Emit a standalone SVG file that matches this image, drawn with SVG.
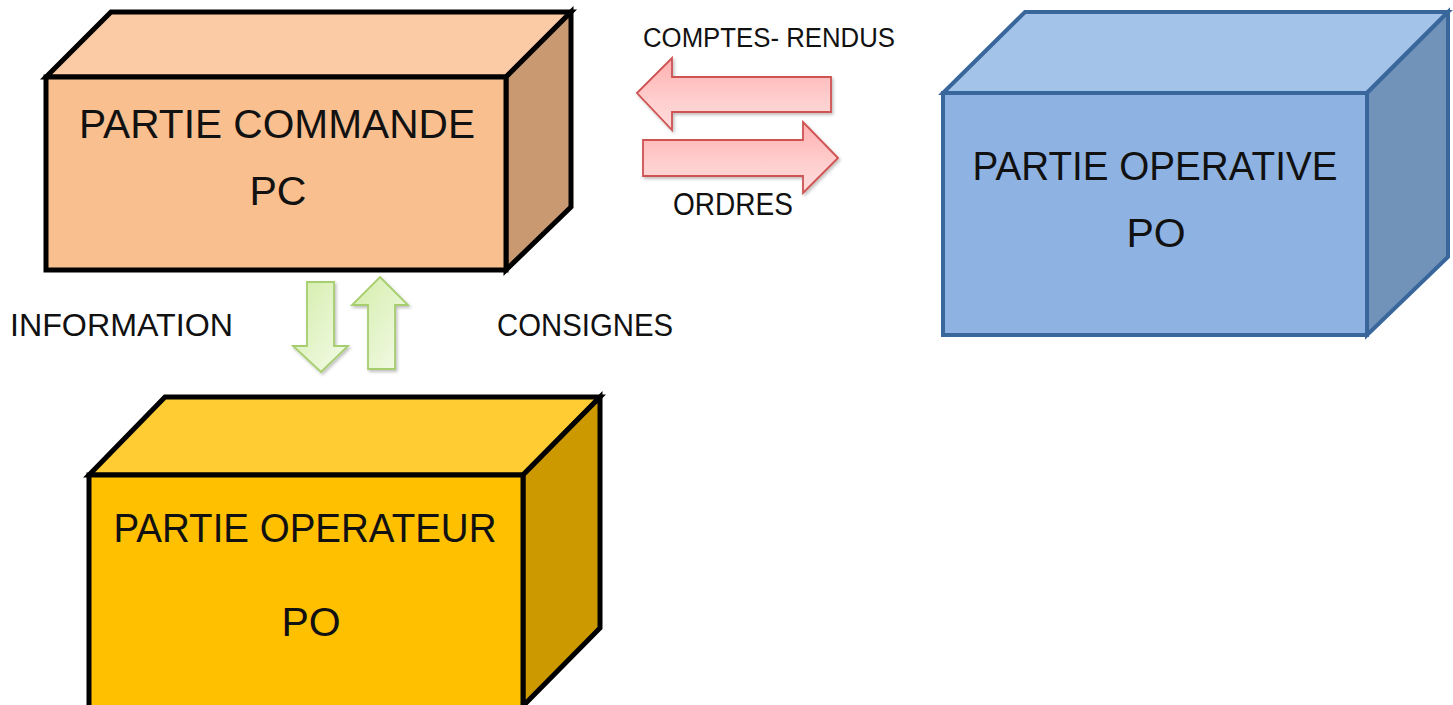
<svg xmlns="http://www.w3.org/2000/svg" width="1453" height="705" viewBox="0 0 1453 705">
<defs>
<linearGradient id="gRed" x1="0" y1="0" x2="0" y2="1">
<stop offset="0" stop-color="#ffb0b0"/>
<stop offset="0.6" stop-color="#ffcfcf"/>
<stop offset="1" stop-color="#ffdcdc"/>
</linearGradient>
<linearGradient id="gGreen" x1="0" y1="0" x2="1" y2="1">
<stop offset="0" stop-color="#d3eda9"/>
<stop offset="1" stop-color="#f4fbe9"/>
</linearGradient>
<filter id="sh" x="-20%" y="-20%" width="140%" height="140%">
<feDropShadow dx="1.5" dy="2" stdDeviation="1.5" flood-color="#000" flood-opacity="0.25"/>
</filter>
</defs>
<style>
.t{font-family:"Liberation Sans",Arial,sans-serif;fill:#111;}
.big{font-size:41px;}
.lbl{font-size:27px;}
.lbl2{font-size:31px;}
.blk{stroke:#000;stroke-width:5;stroke-linejoin:miter;}
.blu{stroke:#3a679b;stroke-width:4;stroke-linejoin:miter;}
.red{fill:url(#gRed);stroke:#cf5252;stroke-width:1.8;filter:url(#sh);}
.grn{fill:url(#gGreen);stroke:#a6cd6e;stroke-width:1.8;filter:url(#sh);}
</style>
<rect width="1453" height="705" fill="#fff"/>

<g id="pc">
<polygon class="blk" points="46,77 111,12 571,12 506,77" fill="#fbcba5"/>
<polygon class="blk" points="506,77 571,12 571,207 506,270" fill="#c99a72"/>
<rect class="blk" x="46" y="77" width="460" height="193" fill="#f9bf8f"/>
<text class="t big" x="277" y="138" text-anchor="middle" textLength="396" lengthAdjust="spacingAndGlyphs">PARTIE COMMANDE</text>
<text class="t big" x="278" y="205" text-anchor="middle">PC</text>
</g>

<g id="po-operative">
<polygon class="blu" points="943,93 1025,12 1448,12 1367,93" fill="#a3c3e8"/>
<polygon class="blu" points="1367,93 1448,12 1448,257 1367,335" fill="#7193ba"/>
<rect class="blu" x="943" y="93" width="424" height="242" fill="#8eb3e2"/>
<text class="t big" x="1155" y="180" text-anchor="middle" textLength="365" lengthAdjust="spacingAndGlyphs">PARTIE OPERATIVE</text>
<text class="t big" x="1156" y="247" text-anchor="middle">PO</text>
</g>

<g id="po-operateur">
<polygon class="blk" points="89,475 165,397 600,397 523,475" fill="#ffcc33"/>
<polygon class="blk" points="523,475 600,397 600,628 523,706" fill="#cc9a00"/>
<rect class="blk" x="89" y="475" width="434" height="240" fill="#ffc000"/>
<text class="t big" x="305" y="542" text-anchor="middle" textLength="383" lengthAdjust="spacingAndGlyphs">PARTIE OPERATEUR</text>
<text class="t big" x="311" y="636" text-anchor="middle">PO</text>
</g>

<g id="connectors">
<polygon class="red" points="637,93 672,58 672,77 831,77 831,112 672,112 672,130"/>
<polygon class="red" points="838,158 803,122 803,140 643,140 643,176 803,176 803,193"/>
<polygon class="grn" points="307,282 334,282 334,346 348,346 321,372 293,346 307,346"/>
<polygon class="grn" points="380,277 408,305 395,305 395,369 368,369 368,305 352,305"/>
</g>

<g id="labels">
<text class="t lbl" x="643" y="47" textLength="252" lengthAdjust="spacingAndGlyphs">COMPTES- RENDUS</text>
<text class="t lbl2" x="673" y="215" textLength="120" lengthAdjust="spacingAndGlyphs">ORDRES</text>
<text class="t lbl2" x="10" y="336" textLength="223" lengthAdjust="spacingAndGlyphs">INFORMATION</text>
<text class="t lbl2" x="497" y="336" textLength="176" lengthAdjust="spacingAndGlyphs">CONSIGNES</text>
</g>
</svg>
